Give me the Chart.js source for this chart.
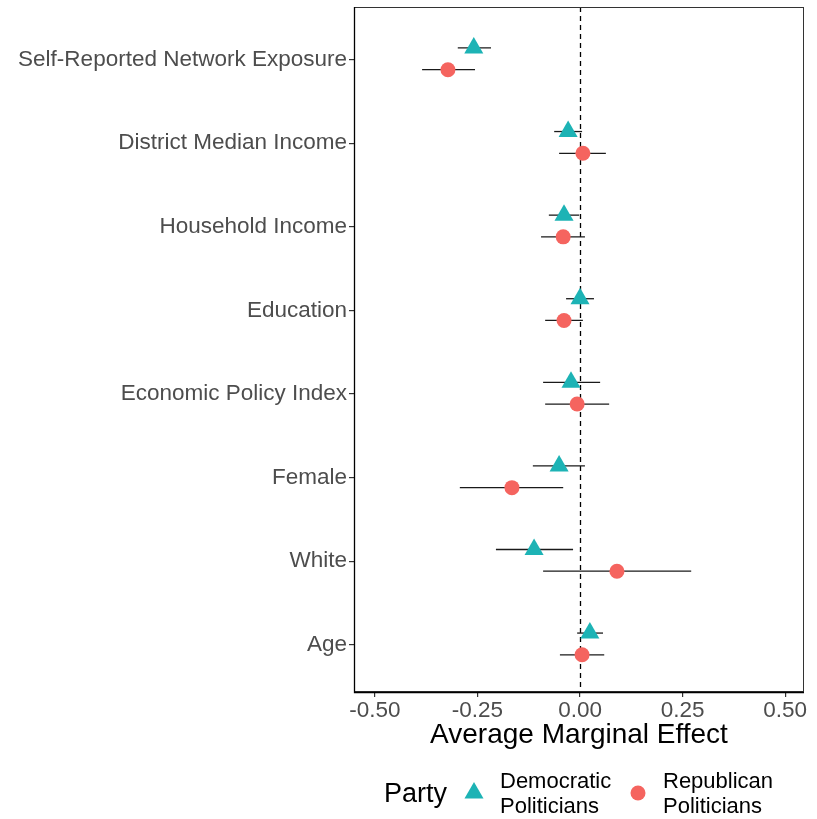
<!DOCTYPE html>
<html>
<head>
<meta charset="utf-8">
<script src="https://cdn.jsdelivr.net/npm/chart.js@4/dist/chart.umd.min.js"></script>
<style>
  html, body { margin: 0; padding: 0; background: #fff; }
  #wrap { width: 817px; height: 819px; position: relative; }
</style>
</head>
<body>
<div id="wrap"><canvas id="c" width="817" height="819"></canvas></div>
<script>
// Covariates, listed from top to bottom of the plot
const categories = [
  'Self-Reported Network Exposure',
  'District Median Income',
  'Household Income',
  'Education',
  'Economic Policy Index',
  'Female',
  'White',
  'Age'
];

// Democratic politicians: average marginal effect and 95% interval
const demEstimate = [-0.259, -0.029, -0.039, 0.000, -0.022, -0.051, -0.112, 0.024];
const demLower    = [-0.298, -0.063, -0.076, -0.034, -0.090, -0.115, -0.205, -0.007];
const demUpper    = [-0.217, 0.005, -0.002, 0.034, 0.049, 0.012, -0.017, 0.056];

// Republican politicians: average marginal effect and 95% interval
const repEstimate = [-0.322, 0.007, -0.041, -0.039, -0.007, -0.166, 0.090, 0.005];
const repLower    = [-0.385, -0.051, -0.095, -0.085, -0.085, -0.293, -0.090, -0.049];
const repUpper    = [-0.256, 0.063, 0.012, 0.007, 0.071, -0.041, 0.271, 0.059];

const xTicks = [-0.50, -0.25, 0.00, 0.25, 0.50];

const partyLabels = [['Democratic', 'Politicians'], ['Republican', 'Politicians']];
const demColor = '#1DB3B5';
const repColor = '#F5645F';

// category i sits at y = n - i; the two parties are dodged around it
const n = categories.length;
const dodgeDem = 0.14, dodgeRep = -0.12;
const demPts = demEstimate.map((v, i) => ({ x: v, y: n - i + dodgeDem, lo: demLower[i], hi: demUpper[i] }));
const repPts = repEstimate.map((v, i) => ({ x: v, y: n - i + dodgeRep, lo: repLower[i], hi: repUpper[i] }));

const FONT = '"Liberation Sans", Arial, Helvetica, sans-serif';

// horizontal interval segments drawn under the markers, plus the zero reference line
const intervalPlugin = {
  id: 'intervals',
  beforeDatasetsDraw(chart) {
    const { ctx, chartArea, scales: { x, y } } = chart;
    ctx.save();
    ctx.beginPath();
    ctx.rect(chartArea.left, chartArea.top, chartArea.right - chartArea.left, chartArea.bottom - chartArea.top);
    ctx.clip();
    // dashed zero line
    ctx.strokeStyle = '#000';
    ctx.lineWidth = 1.3;
    ctx.setLineDash([5, 4]);
    const x0 = Math.round(x.getPixelForValue(0)) + 0.5;
    ctx.beginPath();
    ctx.moveTo(x0, chartArea.top);
    ctx.lineTo(x0, chartArea.bottom);
    ctx.stroke();
    ctx.setLineDash([]);
    ctx.lineWidth = 1.3;
    ctx.strokeStyle = '#1a1a1a';
    chart.data.datasets.forEach(ds => {
      ds.data.forEach(p => {
        const yy = y.getPixelForValue(p.y);
        ctx.beginPath();
        ctx.moveTo(x.getPixelForValue(p.lo), yy);
        ctx.lineTo(x.getPixelForValue(p.hi), yy);
        ctx.stroke();
      });
    });
    ctx.restore();
  },
  afterDraw(chart) {
    const { ctx, chartArea: a } = chart;
    ctx.save();
    // panel border
    ctx.strokeStyle = '#333';
    ctx.lineWidth = 1;
    ctx.strokeRect(a.left + 0.5, a.top + 0.5, a.right - a.left - 1, a.bottom - a.top - 1);
    ctx.strokeStyle = '#000';
    ctx.lineWidth = 1.3;
    ctx.beginPath();
    ctx.moveTo(a.left + 0.5, a.top);
    ctx.lineTo(a.left + 0.5, a.bottom + 0.5);
    ctx.lineTo(a.right, a.bottom + 0.5);
    ctx.stroke();

    // x axis title
    ctx.fillStyle = '#000';
    ctx.font = '28px ' + FONT;
    ctx.textAlign = 'center';
    ctx.textBaseline = 'middle';
    ctx.fillText('Average Marginal Effect', (a.left + a.right) / 2, 735);

    // legend
    ctx.textAlign = 'left';
    ctx.font = '27px ' + FONT;
    ctx.fillText('Party', 384, 795);
    // triangle key
    const tx = 474, ty = 793, r = 11;
    ctx.fillStyle = demColor;
    ctx.beginPath();
    ctx.moveTo(tx, ty - r);
    ctx.lineTo(tx + r * Math.sin(Math.PI / 3), ty + r / 2);
    ctx.lineTo(tx - r * Math.sin(Math.PI / 3), ty + r / 2);
    ctx.closePath();
    ctx.fill();
    // circle key
    ctx.fillStyle = repColor;
    ctx.beginPath();
    ctx.arc(638, 793, 7.5, 0, Math.PI * 2);
    ctx.fill();
    ctx.fillStyle = '#000';
    ctx.font = '22px ' + FONT;
    partyLabels[0].forEach((t, i) => ctx.fillText(t, 500, 782 + i * 25));
    partyLabels[1].forEach((t, i) => ctx.fillText(t, 663, 782 + i * 25));
    ctx.restore();
  }
};

new Chart(document.getElementById('c'), {
  type: 'scatter',
  data: {
    datasets: [
      {
        label: 'Democratic Politicians',
        data: demPts,
        pointStyle: 'triangle',
        pointRadius: 11,
        pointHoverRadius: 11,
        backgroundColor: demColor,
        borderColor: demColor,
        borderWidth: 0
      },
      {
        label: 'Republican Politicians',
        data: repPts,
        pointStyle: 'circle',
        pointRadius: 7.5,
        pointHoverRadius: 7.5,
        backgroundColor: repColor,
        borderColor: repColor,
        borderWidth: 0
      }
    ]
  },
  options: {
    responsive: false,
    animation: false,
    devicePixelRatio: 1,
    layout: { autoPadding: false, padding: { left: 0, right: 13, top: 7, bottom: 0 } },
    plugins: {
      legend: { display: false },
      tooltip: { enabled: false }
    },
    scales: {
      x: {
        type: 'linear',
        min: -0.551,
        max: 0.546,
        afterBuildTicks: s => { s.ticks = xTicks.map(v => ({ value: v })); },
        afterFit: s => { s.height = 127; s.paddingLeft = 0; s.paddingRight = 0; },
        border: { display: false },
        grid: { drawOnChartArea: false, drawTicks: true, tickLength: 5, color: '#333', lineWidth: 1.2 },
        ticks: {
          color: '#4d4d4d',
          font: { size: 22.5, family: FONT },
          padding: 0,
          maxRotation: 0,
          callback: v => v.toFixed(2)
        }
      },
      y: {
        type: 'linear',
        min: 0.435,
        max: n + 0.63,
        afterBuildTicks: s => { s.ticks = categories.map((c, i) => ({ value: n - i })); },
        afterFit: s => { s.width = 354; s.paddingTop = 0; s.paddingBottom = 0; },
        border: { display: false },
        grid: { drawOnChartArea: false, drawTicks: true, tickLength: 5, color: '#333', lineWidth: 1.2 },
        ticks: {
          color: '#4d4d4d',
          font: { size: 22.5, family: FONT, lineHeight: 0.4 },
          padding: 2,
          callback: v => categories[n - v]
        }
      }
    }
  },
  plugins: [intervalPlugin]
});
</script>
</body>
</html>
